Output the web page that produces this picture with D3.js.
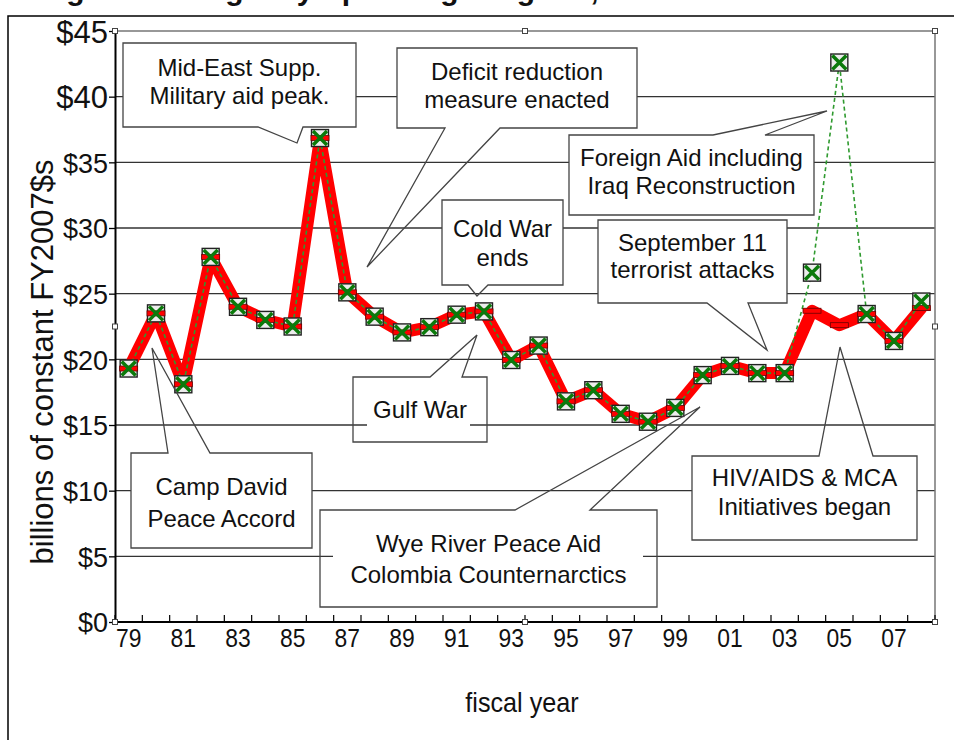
<!DOCTYPE html>
<html><head><meta charset="utf-8">
<script src="https://cdn.jsdelivr.net/npm/d3@7"></script>
<style>
body{margin:0;background:#fff}
svg{display:block}
text{font-family:"Liberation Sans",Arial,Helvetica,sans-serif;fill:#111}
</style>
</head><body>
<svg id="c" width="954" height="740"></svg>
<script>
// ---------- data ----------
const years = ["79","80","81","82","83","84","85","86","87","88","89","90","91","92","93","94","95","96","97","98","99","00","01","02","03","04","05","06","07","08"];
const xTickLabels = ["79","81","83","85","87","89","91","93","95","97","99","01","03","05","07"];
const yTicks = [0,5,10,15,20,25,30,35,40,45];
// foreign aid including Iraq reconstruction (green dashed, boxed X markers)
const aidWithIraq = [19.3,23.5,18.1,27.8,24.0,23.0,22.5,36.85,25.1,23.25,22.05,22.45,23.4,23.65,19.95,21.05,16.8,17.65,15.85,15.25,16.3,18.8,19.5,18.95,18.95,26.6,42.6,23.45,21.4,24.4];
// foreign aid excluding Iraq (thick red line, dash markers)
const aidBase = [19.3,23.5,18.1,27.8,24.0,23.0,22.5,36.85,25.1,23.25,22.05,22.45,23.4,23.65,19.95,21.05,16.8,17.65,15.85,15.25,16.3,18.8,19.5,18.95,18.95,23.7,22.6,23.45,21.4,23.9];
const titleText = "Foreign Aid Budget by Spending Program, FY1979-FY2008";
const yTitle = "billions of constant FY2007$s";
const xTitle = "fiscal year";

// ---------- annotation layout ----------
const callouts = [
  {lines:["Mid-East Supp.","Military aid peak."], box:[123,43,356,127], base:[76,104], side:"bottom", tail:[[258,127],[297,143],[303,127]]},
  {lines:["Deficit reduction","measure enacted"], box:[397,48,637,128], base:[80,108], side:"bottom", tail:[[445,128],[367,267],[500,128]]},
  {lines:["Cold War","ends"], box:[442,200,563,285], base:[237,266], side:"bottom", tail:[[468,285],[477,296],[488,285]]},
  {lines:["Foreign Aid including","Iraq Reconstruction"], box:[569,135,814,215], base:[166,194], side:"top", tail:[[713,135],[827,111],[765,135]]},
  {lines:["September 11","terrorist attacks"], box:[598,220,787,303], base:[251,278], side:"bottom", tail:[[707,303],[767,350],[748,303]]},
  {lines:["Gulf War"], box:[353,377,487,442], base:[418], side:"top", tail:[[430,377],[477,335],[462,377]], bg:[367,470]},
  {lines:["Camp David","Peace Accord"], box:[131,453,312,548], base:[495,527], side:"top", tail:[[168,453],[152,348],[210,453]]},
  {lines:["Wye River Peace Aid","Colombia Counternarctics"], box:[320,510,657,607], base:[552,583], side:"top", tail:[[515,510],[700,407],[590,510]], bg:[333,643]},
  {lines:["HIV/AIDS & MCA","Initiatives began"], box:[692,456,917,540], base:[486,515], side:"top", tail:[[819,456],[840,347],[873,456]]}
];

// ---------- chart ----------
const W = 954, H = 740;
const M = {l:115, r:935, t:31, b:622};
const svg = d3.select("#c");

const x = d3.scaleBand().domain(years).range([M.l, M.r]).padding(0);
const bw = x.bandwidth();
const cx = d => x(d) + bw/2;
const y = d3.scaleLinear().domain([0,45]).range([M.b, M.t]);

// outer frame
svg.append("rect").attr("x",8).attr("y",16).attr("width",W).attr("height",H)
  .attr("fill","none").attr("stroke","#000").attr("stroke-width",1.5);

// title (cut off at the top edge, as in the reference)
svg.append("text").attr("x",410).attr("y",0).attr("text-anchor","middle")
  .attr("font-weight","bold").attr("font-size",30).text(titleText);

// gridlines
svg.append("g").selectAll("line").data(yTicks.filter(d => d>0 && d<45)).join("line")
  .attr("x1",M.l).attr("x2",M.r).attr("y1",d=>y(d)).attr("y2",d=>y(d))
  .attr("stroke","#333").attr("stroke-width",1.3);

// plot border top/right
svg.append("path").attr("d",`M${M.l},${y(45)}H${M.r}V${M.b}`)
  .attr("fill","none").attr("stroke","#777").attr("stroke-width",1.5);

// y axis
const yAxis = svg.append("g").attr("transform",`translate(${M.l},0)`)
  .call(d3.axisLeft(y).tickValues(yTicks).tickSize(6).tickSizeOuter(0).tickPadding(1).tickFormat(d=>"$"+d));
yAxis.select(".domain").attr("stroke","#000").attr("stroke-width",2);
yAxis.selectAll(".tick line").attr("stroke","#000").attr("stroke-width",1.3);
yAxis.selectAll(".tick text").attr("font-size",d => d>=40 ? 31 : 27).attr("dy","0.36em");

// x axis
const xg = svg.append("g");
xg.append("line").attr("x1",M.l).attr("x2",M.r).attr("y1",M.b).attr("y2",M.b)
  .attr("stroke","#000").attr("stroke-width",2);
const bounds = years.map(d => x(d)).concat([x.range()[1]]);
xg.selectAll("line.tk").data(bounds).join("line").attr("class","tk")
  .attr("x1",d=>d).attr("x2",d=>d).attr("y1",M.b).attr("y2",M.b-7)
  .attr("stroke","#000").attr("stroke-width",1.2);
xg.selectAll("text").data(xTickLabels).join("text")
  .attr("transform",d=>`translate(${cx(d)},647) scale(0.88,1)`)
  .attr("text-anchor","middle").attr("font-size",26).text(d=>d);

// axis titles
svg.append("text").attr("transform",`translate(522,712) scale(0.9,1)`)
  .attr("text-anchor","middle").attr("font-size",28).text(xTitle);
svg.append("text").attr("transform",`translate(53,362) rotate(-90)`)
  .attr("text-anchor","middle").attr("font-size",31).text(yTitle);

// selection handles
const midX = (M.l+M.r)/2, midY = (M.t+M.b)/2;
const handles = [[M.l,M.t],[midX,M.t],[M.r,M.t],[M.l,midY],[M.r,midY],[M.l,M.b],[midX,M.b],[M.r,M.b]];
svg.append("g").selectAll("rect").data(handles).join("rect")
  .attr("x",d=>d[0]-2.5).attr("y",d=>d[1]-2.5).attr("width",5).attr("height",5)
  .attr("fill","#fff").attr("stroke","#444").attr("stroke-width",1);

// series lines
const line = d3.line().x((d,i)=>cx(years[i])).y(d=>y(d));
svg.append("path").attr("d",line(aidBase)).attr("fill","none")
  .attr("stroke","#ff0000").attr("stroke-width",12)
  .attr("stroke-linejoin","round").attr("stroke-linecap","round");
svg.append("path").attr("d",line(aidWithIraq)).attr("fill","none")
  .attr("stroke","#2f9a2f").attr("stroke-width",1.6).attr("stroke-dasharray","4,3");

// markers
const gPts = aidWithIraq.map((v,i)=>({x:cx(years[i]), y:y(v)}));
const rPts = aidBase.map((v,i)=>({x:cx(years[i]), y:y(v)}));
const S = 17;
svg.append("g").selectAll("rect").data(gPts).join("rect")
  .attr("x",d=>d.x-S/2).attr("y",d=>d.y-S/2).attr("width",S).attr("height",S)
  .attr("fill","#ececec").attr("stroke","#222").attr("stroke-width",1.4);
svg.append("g").selectAll("rect").data(rPts).join("rect")
  .attr("x",d=>d.x-9).attr("y",d=>d.y-2.5).attr("width",18).attr("height",5)
  .attr("fill","#ff0000").attr("stroke","#6a0000").attr("stroke-width",0.8);
svg.append("g").selectAll("path").data(gPts).join("path")
  .attr("d",d=>`M${d.x-7},${d.y-7}L${d.x+7},${d.y+7}M${d.x+7},${d.y-7}L${d.x-7},${d.y+7}`)
  .attr("stroke","#0b7a0b").attr("stroke-width",3.5).attr("fill","none");

// callouts
function calloutPath(c){
  const [x0,y0,x1,y1] = c.box;
  const t = c.tail, tip = t[1];
  const bL = t[0][0] < t[2][0] ? t[0] : t[2];
  const bR = t[0][0] < t[2][0] ? t[2] : t[0];
  if (c.side === "bottom"){
    return `M${x0},${y0}H${x1}V${y1}H${bR[0]}L${tip[0]},${tip[1]}L${bL[0]},${y1}H${x0}Z`;
  }
  return `M${x0},${y0}H${bL[0]}L${tip[0]},${tip[1]}L${bR[0]},${y0}H${x1}V${y1}H${x0}Z`;
}
const cg = svg.append("g").selectAll("g").data(callouts).join("g");
cg.append("rect")
  .attr("x",d=>(d.bg ? d.bg[0] : d.box[0]))
  .attr("y",d=>d.box[1]+1)
  .attr("width",d=>(d.bg ? d.bg[1]-d.bg[0] : d.box[2]-d.box[0]))
  .attr("height",d=>d.box[3]-d.box[1]-2)
  .attr("fill","#fff");
cg.append("path").attr("d",calloutPath).attr("fill","none")
  .attr("stroke","#444").attr("stroke-width",1.3).attr("stroke-linejoin","miter");
cg.each(function(d){
  const g = d3.select(this);
  const mx = (d.box[0]+d.box[2])/2;
  d.lines.forEach((l,i)=>{
    g.append("text").attr("x",mx).attr("y",d.base[i]).attr("text-anchor","middle")
      .attr("font-size",24).text(l);
  });
});
</script>
</body></html>
